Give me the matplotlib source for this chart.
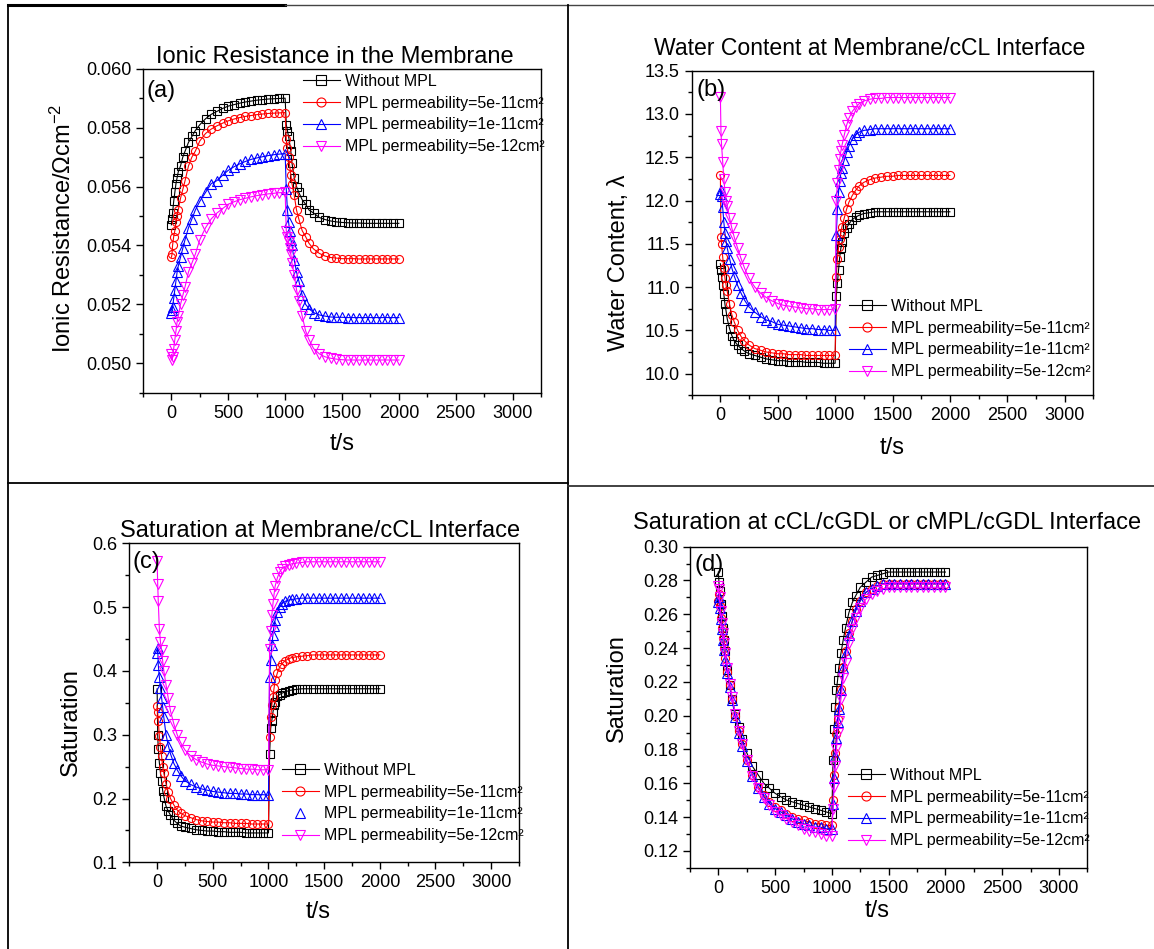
import matplotlib
matplotlib.use("Agg")
import matplotlib.pyplot as plt
from matplotlib.lines import Line2D
from matplotlib.ticker import MultipleLocator

plt.rcParams['font.family'] = ['Liberation Sans', 'DejaVu Sans']
plt.rcParams['mathtext.fontset'] = 'custom'
plt.rcParams['mathtext.rm'] = 'Liberation Sans'
plt.rcParams['mathtext.it'] = 'Liberation Sans:italic'

# time grid (s): charging phase then relaxation phase
t_phase1 = [0, 5, 10, 20, 30, 40, 50, 60, 80, 100, 120, 150, 180, 210, 250, 300, 350, 400,
            450, 500, 550, 600, 650, 700, 750, 800, 850, 900, 950, 1000]
t_phase2 = [1010, 1020, 1030, 1040, 1050, 1060, 1080, 1100, 1120, 1150, 1180, 1210, 1250,
            1300, 1350, 1400, 1450, 1500, 1550, 1600, 1650, 1700, 1750, 1800, 1850, 1900, 1950, 2000]
t = t_phase1 + t_phase2

labels = ["Without MPL",
          "MPL permeability=5e-11cm\u00b2",
          "MPL permeability=1e-11cm\u00b2",
          "MPL permeability=5e-12cm\u00b2"]

# (a) ionic resistance in the membrane
res_nompl = [0.0547, 0.0549, 0.0551, 0.0555, 0.0558, 0.0561, 0.0563, 0.0565, 0.0567, 0.0570,
             0.0572, 0.0575, 0.0577, 0.0579, 0.0581, 0.0583, 0.05845, 0.05855, 0.05865, 0.05873,
             0.05878, 0.05883, 0.05887, 0.0589, 0.05893, 0.05895, 0.05897, 0.05898, 0.05899, 0.0590,
             0.0581, 0.0579, 0.0577, 0.05746, 0.0572, 0.0568, 0.0563, 0.0560, 0.0558, 0.05555,
             0.0554, 0.0552, 0.0551, 0.05495, 0.05488, 0.05483, 0.0548, 0.05478, 0.05477, 0.05476,
             0.05476, 0.05475, 0.05475, 0.05475, 0.05475, 0.05475, 0.05475, 0.05475]
res_5e11 = [0.0536, 0.0537, 0.0540, 0.0543, 0.0545, 0.0548, 0.0550, 0.0552, 0.0556, 0.0559,
            0.0562, 0.0567, 0.0570, 0.0572, 0.05755, 0.0578, 0.05795, 0.05806, 0.05815, 0.05823,
            0.05829, 0.05834, 0.05838, 0.05841, 0.05844, 0.05846, 0.05848, 0.05849, 0.0585, 0.05851,
            0.0576, 0.0573, 0.0570, 0.0567, 0.0564, 0.0561, 0.0557, 0.0552, 0.0549, 0.0545,
            0.0543, 0.05407, 0.05388, 0.05373, 0.05364, 0.05359, 0.05357, 0.05355, 0.05355, 0.05355,
            0.05354, 0.05354, 0.05354, 0.05354, 0.05354, 0.05354, 0.05354, 0.05354]
res_1e11 = [0.0517, 0.0518, 0.0519, 0.0522, 0.0525, 0.0528, 0.0531, 0.0533, 0.0536, 0.0539,
            0.0542, 0.0546, 0.0549, 0.0552, 0.0555, 0.0558, 0.0561, 0.0562, 0.05638, 0.05655,
            0.05667, 0.05677, 0.05685, 0.05692, 0.05697, 0.05701, 0.05705, 0.05708, 0.0571, 0.05712,
            0.0559, 0.0552, 0.0548, 0.0545, 0.0542, 0.0540, 0.0535, 0.0531, 0.0528, 0.0523,
            0.0520, 0.05185, 0.05172, 0.05164, 0.0516, 0.05157, 0.05156, 0.05156, 0.05155, 0.05155,
            0.05155, 0.05155, 0.05155, 0.05155, 0.05155, 0.05155, 0.05155, 0.05155]
res_5e12 = [0.0503, 0.0501, 0.0502, 0.0505, 0.0508, 0.0511, 0.0514, 0.0516, 0.0520, 0.0523,
            0.0526, 0.0531, 0.0534, 0.0537, 0.0542, 0.0546, 0.0549, 0.0551, 0.05525, 0.0554,
            0.05548, 0.05555, 0.0556, 0.05565, 0.05569, 0.05572, 0.05575, 0.05577, 0.05579, 0.0558,
            0.0545, 0.0543, 0.0541, 0.0539, 0.0537, 0.0534, 0.0530, 0.0525, 0.0521, 0.0516,
            0.0511, 0.0508, 0.0505, 0.05032, 0.05022, 0.05017, 0.05014, 0.05012, 0.05011, 0.05011,
            0.05011, 0.05011, 0.05011, 0.05011, 0.05011, 0.05011, 0.05011, 0.05011]

# (b) water content at membrane/cCL interface
wc_nompl = [11.27, 11.2, 11.12, 11.03, 10.92, 10.8, 10.72, 10.63, 10.52, 10.44,
            10.38, 10.33, 10.29, 10.26, 10.23, 10.21, 10.19, 10.17, 10.16, 10.15,
            10.15, 10.14, 10.14, 10.14, 10.13, 10.13, 10.13, 10.12, 10.12, 10.12,
            10.9, 11.05, 11.2, 11.35, 11.45, 11.52, 11.62, 11.68, 11.73, 11.78,
            11.81, 11.83, 11.85, 11.86, 11.87, 11.87, 11.87, 11.87, 11.87, 11.87,
            11.87, 11.87, 11.87, 11.87, 11.87, 11.87, 11.87, 11.87]
wc_5e11 = [12.29, 11.58, 11.5, 11.35, 11.22, 11.1, 11.02, 10.95, 10.8, 10.68,
           10.6, 10.5, 10.43, 10.38, 10.33, 10.29, 10.27, 10.25, 10.24, 10.23,
           10.23, 10.22, 10.22, 10.22, 10.21, 10.21, 10.21, 10.21, 10.21, 10.21,
           11.12, 11.33, 11.46, 11.55, 11.63, 11.7, 11.8, 11.9, 11.98, 12.06,
           12.12, 12.17, 12.21, 12.24, 12.26, 12.27, 12.28, 12.28, 12.29, 12.29,
           12.29, 12.29, 12.29, 12.29, 12.29, 12.29, 12.29, 12.29]
wc_1e11 = [12.08, 12.12, 12.05, 11.92, 11.75, 11.62, 11.53, 11.45, 11.33, 11.22,
           11.13, 11.02, 10.93, 10.85, 10.77, 10.71, 10.66, 10.62, 10.6, 10.57,
           10.56, 10.55, 10.54, 10.53, 10.52, 10.52, 10.51, 10.51, 10.5, 10.5,
           11.6, 11.9, 12.1, 12.22, 12.32, 12.38, 12.47, 12.56, 12.63, 12.71,
           12.76, 12.79, 12.81, 12.82, 12.83, 12.83, 12.83, 12.83, 12.83, 12.83,
           12.83, 12.83, 12.83, 12.83, 12.83, 12.83, 12.83, 12.83]
wc_5e12 = [13.2, 12.8, 12.65, 12.45, 12.25, 12.1, 12.0, 11.94, 11.8, 11.68,
           11.58, 11.45, 11.33, 11.22, 11.1, 11.0, 10.93, 10.88, 10.84, 10.81,
           10.79, 10.78, 10.77, 10.76, 10.75, 10.75, 10.74, 10.74, 10.74, 10.75,
           12.0, 12.2, 12.35, 12.48, 12.57, 12.64, 12.76, 12.87, 12.95, 13.03,
           13.08, 13.12, 13.15, 13.17, 13.18, 13.18, 13.19, 13.19, 13.19, 13.19,
           13.19, 13.19, 13.19, 13.19, 13.19, 13.19, 13.19, 13.19]

# (c) saturation at membrane/cCL interface
sm_nompl = [0.372, 0.300, 0.278, 0.256, 0.24, 0.227, 0.212, 0.203, 0.188, 0.18,
            0.174, 0.166, 0.161, 0.157, 0.155, 0.153, 0.151, 0.150, 0.149, 0.149,
            0.148, 0.148, 0.147, 0.147, 0.147, 0.146, 0.146, 0.146, 0.146, 0.146,
            0.27, 0.31, 0.322, 0.335, 0.346, 0.352, 0.36, 0.363, 0.365, 0.367,
            0.369, 0.370, 0.371, 0.372, 0.372, 0.372, 0.372, 0.372, 0.372, 0.372,
            0.372, 0.372, 0.372, 0.372, 0.372, 0.372, 0.372, 0.372]
sm_5e11 = [0.345, 0.335, 0.322, 0.298, 0.28, 0.266, 0.25, 0.24, 0.223, 0.21,
           0.2, 0.19, 0.182, 0.177, 0.173, 0.17, 0.167, 0.165, 0.164, 0.163,
           0.163, 0.162, 0.162, 0.161, 0.161, 0.161, 0.16, 0.16, 0.16, 0.16,
           0.296, 0.327, 0.347, 0.359, 0.373, 0.385, 0.397, 0.406, 0.411, 0.416,
           0.419, 0.421, 0.422, 0.423, 0.424, 0.425, 0.425, 0.425, 0.425, 0.425,
           0.425, 0.425, 0.425, 0.425, 0.425, 0.425, 0.425, 0.425]
sm_1e11 = [0.428, 0.436, 0.41, 0.39, 0.373, 0.358, 0.343, 0.327, 0.3, 0.283,
           0.27, 0.255, 0.245, 0.236, 0.228, 0.222, 0.218, 0.215, 0.213, 0.211,
           0.21, 0.209, 0.208, 0.208, 0.207, 0.207, 0.206, 0.206, 0.206, 0.205,
           0.39, 0.417, 0.44, 0.457, 0.471, 0.48, 0.492, 0.5, 0.505, 0.509,
           0.511, 0.512, 0.513, 0.514, 0.514, 0.514, 0.514, 0.514, 0.514, 0.514,
           0.514, 0.514, 0.514, 0.514, 0.514, 0.514, 0.514, 0.514]
sm_5e12 = [0.573, 0.536, 0.51, 0.465, 0.445, 0.432, 0.415, 0.40, 0.378, 0.357,
           0.337, 0.317, 0.3, 0.288, 0.276, 0.267, 0.261, 0.257, 0.254, 0.252,
           0.251, 0.25, 0.249, 0.248, 0.247, 0.246, 0.246, 0.245, 0.245, 0.245,
           0.434, 0.462, 0.487, 0.505, 0.52, 0.533, 0.546, 0.555, 0.56, 0.564,
           0.566, 0.568, 0.569, 0.57, 0.571, 0.571, 0.571, 0.571, 0.571, 0.571,
           0.571, 0.571, 0.571, 0.571, 0.571, 0.571, 0.571, 0.571]

# (d) saturation at cCL/cGDL or cMPL/cGDL interface
sg_nompl = [0.285, 0.279, 0.274, 0.266, 0.259, 0.252, 0.245, 0.238, 0.227, 0.218,
            0.21, 0.201, 0.193, 0.186, 0.178, 0.17, 0.165, 0.16, 0.157, 0.154,
            0.152, 0.150, 0.149, 0.148, 0.147, 0.146, 0.145, 0.144, 0.143, 0.142,
            0.174, 0.192, 0.205, 0.215, 0.221, 0.228, 0.237, 0.245, 0.252, 0.261,
            0.267, 0.271, 0.276, 0.279, 0.282, 0.283, 0.284, 0.285, 0.285, 0.285,
            0.285, 0.285, 0.285, 0.285, 0.285, 0.285, 0.285, 0.285]
sg_5e11 = [0.268, 0.272, 0.265, 0.258, 0.252, 0.246, 0.24, 0.234, 0.226, 0.218,
           0.21, 0.2, 0.191, 0.183, 0.174, 0.165, 0.158, 0.153, 0.149, 0.146,
           0.144, 0.142, 0.14, 0.139, 0.138, 0.137, 0.136, 0.136, 0.135, 0.135,
           0.15, 0.165, 0.178, 0.189, 0.198, 0.205, 0.216, 0.229, 0.238, 0.249,
           0.256, 0.263, 0.268, 0.273, 0.275, 0.277, 0.278, 0.278, 0.278, 0.278,
           0.278, 0.278, 0.278, 0.278, 0.278, 0.278, 0.278, 0.278]
sg_1e11 = [0.267, 0.27, 0.264, 0.257, 0.251, 0.245, 0.239, 0.233, 0.225, 0.217,
           0.209, 0.199, 0.19, 0.182, 0.173, 0.164, 0.157, 0.152, 0.148, 0.145,
           0.143, 0.141, 0.139, 0.137, 0.136, 0.135, 0.134, 0.134, 0.133, 0.133,
           0.148, 0.163, 0.176, 0.187, 0.196, 0.204, 0.215, 0.228, 0.237, 0.248,
           0.256, 0.262, 0.268, 0.273, 0.275, 0.277, 0.278, 0.278, 0.278, 0.278,
           0.278, 0.278, 0.278, 0.278, 0.278, 0.278, 0.278, 0.278]
sg_5e12 = [0.277, 0.275, 0.27, 0.262, 0.255, 0.249, 0.243, 0.237, 0.228, 0.219,
           0.211, 0.201, 0.191, 0.183, 0.174, 0.164, 0.157, 0.151, 0.147, 0.143,
           0.141, 0.139, 0.137, 0.135, 0.133, 0.132, 0.131, 0.13, 0.129, 0.129,
           0.145, 0.158, 0.17, 0.18, 0.19, 0.197, 0.21, 0.222, 0.231, 0.243,
           0.251, 0.258, 0.264, 0.269, 0.272, 0.274, 0.275, 0.276, 0.276, 0.276,
           0.276, 0.276, 0.276, 0.276, 0.276, 0.276, 0.276, 0.276]

colors = ['black', 'red', 'blue', 'magenta']
markers = ['s', 'o', '^', 'v']
msizes = [5.2, 5.8, 6.6, 6.6]

W, H = 1154, 949
fig = plt.figure(figsize=(W / 100, H / 100), dpi=100)


def fx(x):
    return x / W


def fy(y):
    return 1 - y / H


def make_axes(left, top, right, bottom):
    return fig.add_axes([fx(left), fy(bottom), (right - left) / W, (bottom - top) / H])


def style_axes(ax, ylim, major, minor, fmt):
    ax.set_xlim(-250, 3250)
    ax.set_ylim(*ylim)
    ax.xaxis.set_major_locator(MultipleLocator(500))
    ax.xaxis.set_minor_locator(MultipleLocator(250))
    ax.yaxis.set_major_locator(MultipleLocator(major))
    ax.yaxis.set_minor_locator(MultipleLocator(minor))
    ax.yaxis.set_major_formatter(plt.FormatStrFormatter(fmt))
    ax.tick_params(which='both', direction='out', top=False, right=False,
                   labelsize=13, width=1)
    ax.tick_params(which='major', length=5)
    ax.tick_params(which='minor', length=3)
    for s in ax.spines.values():
        s.set_linewidth(1.0)


def draw_series(ax, series):
    for y, c, m, ms in zip(series, colors, markers, msizes):
        ax.plot(t, y, color=c, lw=0.8, marker=m, ms=ms, mfc='none', mec=c, mew=0.8)


def add_legend(ax, x, y, no_line=None):
    handles = []
    for i, (c, m) in enumerate(zip(colors, markers)):
        ls = 'none' if i == no_line else '-'
        handles.append(Line2D([], [], color=c, lw=0.8, ls=ls, marker=m, ms=6.5,
                              mfc='none', mec=c, mew=0.8))
    ax.legend(handles, labels, loc='upper left', bbox_to_anchor=(fx(x), fy(y)),
              bbox_transform=fig.transFigure, frameon=False, fontsize=11.5,
              handlelength=2.3, handletextpad=0.35, labelspacing=0.42,
              borderpad=0, borderaxespad=0)


def text_px(x, y, s, size, **kw):
    fig.text(fx(x), fy(y), s, fontsize=size, **kw)


# (a)
ax_a = make_axes(143, 68.7, 541, 392.7)
draw_series(ax_a, [res_nompl, res_5e11, res_1e11, res_5e12])
style_axes(ax_a, (0.049, 0.060), 0.002, 0.001, '%.3f')
add_legend(ax_a, 303, 74)

# (b)
ax_b = make_axes(691.7, 70.7, 1093.3, 395.3)
draw_series(ax_b, [wc_nompl, wc_5e11, wc_1e11, wc_5e12])
style_axes(ax_b, (9.75, 13.5), 0.5, 0.25, '%.1f')
add_legend(ax_b, 849, 299)

# (c)
ax_c = make_axes(129.3, 543.3, 519, 862.3)
draw_series(ax_c, [sm_nompl, sm_5e11, sm_1e11, sm_5e12])
style_axes(ax_c, (0.1, 0.6), 0.1, 0.05, '%.1f')
add_legend(ax_c, 282, 763, no_line=2)

# (d)
ax_d = make_axes(690, 546.7, 1087.3, 867.7)
draw_series(ax_d, [sg_nompl, sg_5e11, sg_1e11, sg_5e12])
style_axes(ax_d, (0.11, 0.30), 0.02, 0.01, '%.2f')
add_legend(ax_d, 848, 768)

# titles
text_px(335, 63, "Ionic Resistance in the Membrane", 17, ha='center', va='baseline')
text_px(870, 55, "Water Content at Membrane/cCL Interface", 16.6, ha='center', va='baseline')
text_px(320, 537, "Saturation at Membrane/cCL Interface", 17, ha='center', va='baseline')
text_px(887, 529, "Saturation at cCL/cGDL or cMPL/cGDL Interface", 17, ha='center', va='baseline')

# panel tags
text_px(147, 97, "(a)", 17, va='baseline')
text_px(697, 96, "(b)", 17, va='baseline')
text_px(132, 568, "(c)", 17, va='baseline')
text_px(694, 571, "(d)", 17, va='baseline')

# axis labels
text_px(63, 228, "Ionic Resistance/\u03a9cm$^{-2}$", 17, rotation=90, ha='center', va='center')
text_px(619, 263, "Water Content, \u03bb", 17, rotation=90, ha='center', va='center')
text_px(71, 722, "Saturation", 17, rotation=90, ha='center', va='center')
text_px(617, 688, "Saturation", 17, rotation=90, ha='center', va='center')
for x, y in [(342, 444), (892, 448), (318, 912), (877, 911)]:
    text_px(x, y, "t/s", 17, ha='center', va='center')

# frame lines between the four panels
def frame_line(x0, y0, x1, y1, lw=1.3, color='black'):
    fig.add_artist(Line2D([fx(x0), fx(x1)], [fy(y0), fy(y1)], transform=fig.transFigure,
                          color=color, lw=lw))


frame_line(8, 5, 285, 5, lw=2.2)
frame_line(285, 5, 1154, 5, lw=1.0, color='#444444')
frame_line(8, 5, 8, 949)
frame_line(568, 5, 568, 949)
frame_line(8, 483, 568, 483)
frame_line(568, 486, 1154, 486, lw=1.3, color='#333333')

fig.savefig("out.png", dpi=100)
